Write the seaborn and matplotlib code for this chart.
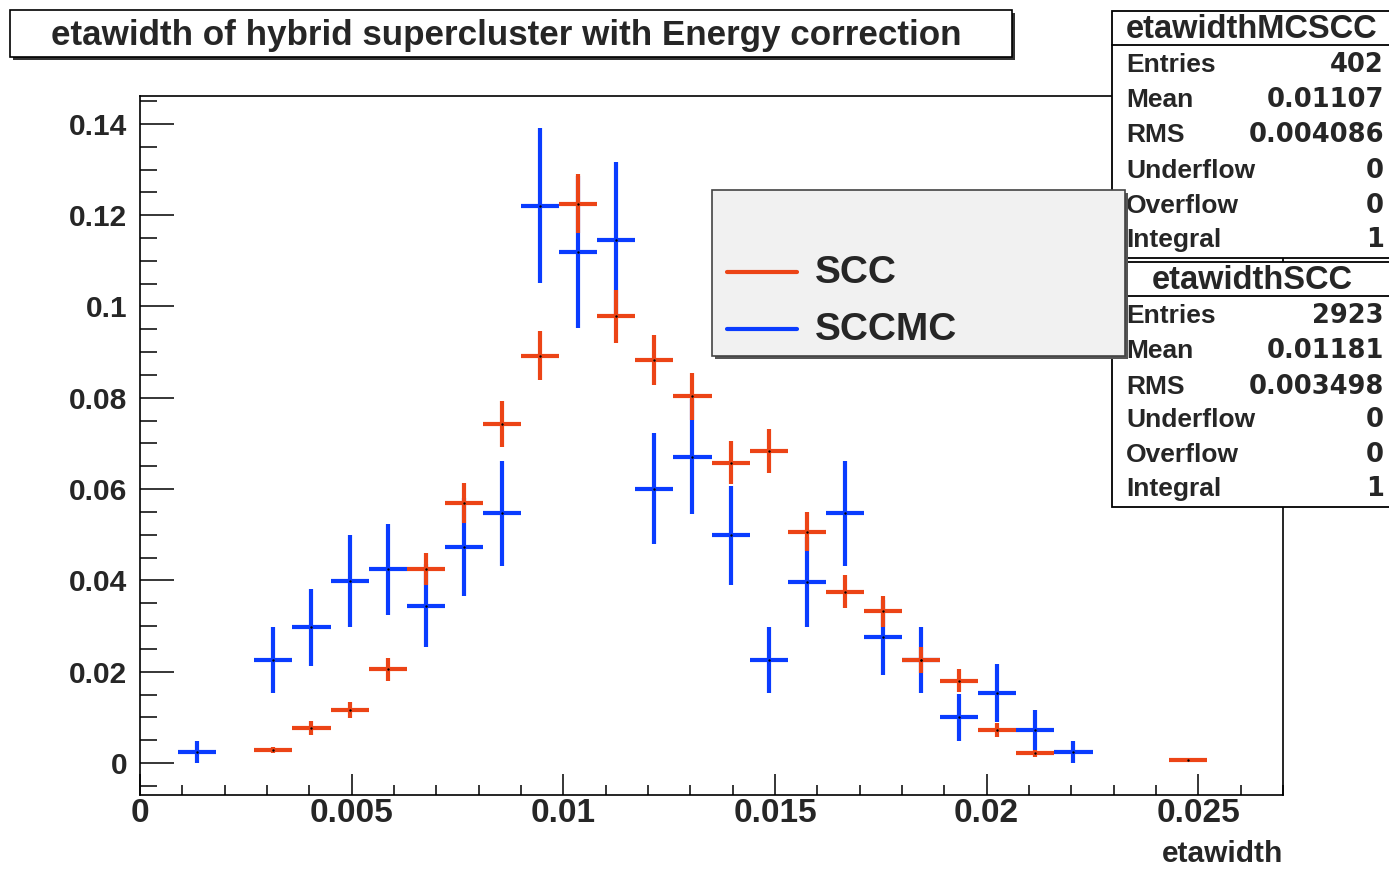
import numpy as np
import pandas as pd
import seaborn as sns
import matplotlib
matplotlib.use("Agg")
import matplotlib.pyplot as plt
from matplotlib.patches import Rectangle
from matplotlib.lines import Line2D
from matplotlib.ticker import MultipleLocator, FuncFormatter

# ---------------- data ----------------
scc_x = [0.00315, 0.00405, 0.00495, 0.00585, 0.00675, 0.00765, 0.00855, 0.00945,
         0.01035, 0.01125, 0.01215, 0.01305, 0.01395, 0.01485, 0.01575, 0.01665,
         0.01755, 0.01845, 0.01935, 0.02025, 0.02115, 0.02475]
scc_y = [0.0029, 0.0077, 0.0116, 0.0205, 0.0424, 0.0569, 0.0742, 0.0892,
         0.1225, 0.0979, 0.0883, 0.0803, 0.0658, 0.0684, 0.0507, 0.0375,
         0.0332, 0.0226, 0.0180, 0.0072, 0.0021, 0.0007]
scc_err = [0.0007, 0.0016, 0.0018, 0.0026, 0.0035, 0.0044, 0.0050, 0.0054,
           0.0065, 0.0058, 0.0054, 0.0052, 0.0047, 0.0048, 0.0042, 0.0036,
           0.0034, 0.0028, 0.0025, 0.0016, 0.0008, 0.0005]

sccmc_x = [0.00135, 0.00315, 0.00405, 0.00495, 0.00585, 0.00675, 0.00765, 0.00855,
           0.00945, 0.01035, 0.01125, 0.01215, 0.01305, 0.01395, 0.01485, 0.01575,
           0.01665, 0.01755, 0.01845, 0.01935, 0.02025, 0.02115, 0.02205]
sccmc_y = [0.0025, 0.0226, 0.0297, 0.0399, 0.0424, 0.0345, 0.0473, 0.0547,
           0.1221, 0.1119, 0.1146, 0.0601, 0.0671, 0.0499, 0.0226, 0.0397,
           0.0547, 0.0275, 0.0226, 0.0100, 0.0153, 0.0072, 0.0025]
sccmc_err = [0.0024, 0.0072, 0.0085, 0.0100, 0.0100, 0.0090, 0.0108, 0.0115,
             0.0170, 0.0166, 0.0170, 0.0122, 0.0126, 0.0108, 0.0072, 0.0099,
             0.0115, 0.0083, 0.0072, 0.0052, 0.0063, 0.0044, 0.0024]
bin_width = 0.0009

title = "etawidth of hybrid supercluster with Energy correction"
x_label = "etawidth"
series_names = ["SCC", "SCCMC"]

stats_mc_name = "etawidthMCSCC"
stats_mc_keys = ["Entries", "Mean", "RMS", "Underflow", "Overflow", "Integral"]
stats_mc_vals = ["402", "0.01107", "0.004086", "0", "0", "1"]
stats_scc_name = "etawidthSCC"
stats_scc_keys = ["Entries", "Mean", "RMS", "Underflow", "Overflow", "Integral"]
stats_scc_vals = ["2923", "0.01181", "0.003498", "0", "0", "1"]

RED = "#ec4416"
BLUE = "#0a3cff"

# ---------------- style ----------------
sns.set_style("ticks")
plt.rcParams["font.family"] = ["Liberation Sans", "DejaVu Sans"]
plt.rcParams["font.weight"] = "bold"

W, H = 1389, 869
fig = plt.figure(figsize=(W / 100, H / 100), dpi=100)
fig.patch.set_facecolor("white")


def fx(px):
    return px / W


def fy(py):
    return 1 - py / H


ax = fig.add_axes([fx(140), fy(795), fx(1283) - fx(140), fy(96) - fy(795)])

df = pd.concat([
    pd.DataFrame({"etawidth": sccmc_x, "value": sccmc_y, "err": sccmc_err, "series": "SCCMC"}),
    pd.DataFrame({"etawidth": scc_x, "value": scc_y, "err": scc_err, "series": "SCC"}),
], ignore_index=True)

colors = {"SCC": RED, "SCCMC": BLUE}
zorders = {"SCCMC": 2, "SCC": 3}
for name in ["SCCMC", "SCC"]:
    sub = df[df["series"] == name]
    ax.errorbar(sub["etawidth"], sub["value"], xerr=bin_width / 2, yerr=sub["err"],
                fmt="none", ecolor=colors[name], elinewidth=3.0, capsize=0,
                zorder=zorders[name])
sns.scatterplot(data=df, x="etawidth", y="value", color="black", s=3,
                linewidth=0, ax=ax, zorder=4, legend=False)

ax.set_xlim(0, 0.027)
ax.set_ylim(-0.0070, 0.1461)
ax.xaxis.set_major_locator(MultipleLocator(0.005))
ax.xaxis.set_minor_locator(MultipleLocator(0.001))
ax.yaxis.set_major_locator(MultipleLocator(0.02))
ax.yaxis.set_minor_locator(MultipleLocator(0.005))
fmt = FuncFormatter(lambda v, p: "0" if abs(v) < 1e-12 else "%g" % v)
ax.xaxis.set_major_formatter(fmt)
ax.yaxis.set_major_formatter(fmt)
ax.tick_params(axis="both", which="both", direction="in", top=False, right=False,
               width=1.1, color="black")
ax.tick_params(axis="y", which="major", length=24.5, pad=9, labelsize=21.5)
ax.tick_params(axis="y", which="minor", length=12.2)
ax.tick_params(axis="x", which="major", length=15, pad=2, labelsize=24)
ax.tick_params(axis="x", which="minor", length=7.5)
for lab in ax.get_xticklabels() + ax.get_yticklabels():
    lab.set_fontweight("bold")
for s in ax.spines.values():
    s.set_visible(True)
    s.set_linewidth(1.2)
    s.set_color("black")
ax.set_ylabel("")
ax.set_xlabel(x_label, fontsize=21.5, fontweight="bold", ha="right", va="baseline")
ax.xaxis.set_label_coords(1.0, -(862.5 - 795) / 699)

# ---------------- title box ----------------
fig.add_artist(Rectangle((fx(13), fy(60)), fx(1012) - fx(10), fy(10) - fy(57),
                         transform=fig.transFigure, facecolor="#333333",
                         edgecolor="none", zorder=5))
fig.add_artist(Rectangle((fx(10), fy(57)), fx(1012) - fx(10), fy(10) - fy(57),
                         transform=fig.transFigure, facecolor="white",
                         edgecolor="black", linewidth=1.2, zorder=6))
fig.text(fx(506), fy(36), title, ha="center", va="center", fontsize=25.2,
         fontweight="bold", zorder=7)


# ---------------- stats boxes ----------------
def stats_box(top, bottom, sep, name, keys, vals, head_y, row_ys):
    fig.add_artist(Rectangle((fx(1112), fy(bottom)), fx(1400) - fx(1112), fy(top) - fy(bottom),
                             transform=fig.transFigure, facecolor="white",
                             edgecolor="black", linewidth=1.3, zorder=8))
    fig.add_artist(Line2D([fx(1112), fx(1389)], [fy(sep), fy(sep)],
                          transform=fig.transFigure, color="black", lw=1.3, zorder=9))
    fig.text(fx(1252), fy(head_y), name, ha="center", va="center", fontsize=23.5,
             fontweight="bold", zorder=9)
    for k, v, yy in zip(keys, vals, row_ys):
        fig.text(fx(1126), fy(yy), k, ha="left", va="center", fontsize=19,
                 fontweight="bold", zorder=9)
        fig.text(fx(1384), fy(yy), v, ha="right", va="center", fontsize=18.5,
                 fontweight="bold", family=["DejaVu Sans"], zorder=9)


stats_box(11, 258, 45, stats_mc_name, stats_mc_keys, stats_mc_vals, 29,
          [65, 100, 135, 171, 206, 240])
stats_box(262, 507, 296, stats_scc_name, stats_scc_keys, stats_scc_vals, 280,
          [316, 351, 387, 420, 455, 489])

# ---------------- legend ----------------
fig.add_artist(Rectangle((fx(715), fy(359)), fx(1125) - fx(712), fy(190) - fy(356),
                         transform=fig.transFigure, facecolor="#555555",
                         edgecolor="none", zorder=10))
fig.add_artist(Rectangle((fx(712), fy(356)), fx(1125) - fx(712), fy(190) - fy(356),
                         transform=fig.transFigure, facecolor="#f1f1f1",
                         edgecolor="#444444", linewidth=1.2, zorder=11))
for name, yy in zip(series_names, [272, 329]):
    fig.add_artist(Line2D([fx(727), fx(797)], [fy(yy), fy(yy)], transform=fig.transFigure,
                          color=colors[name], lw=3, zorder=12))
    fig.text(fx(815), fy(yy + 1), name, ha="left", va="center", fontsize=28,
             fontweight="bold", zorder=12)

fig.savefig("out.png", dpi=100)
